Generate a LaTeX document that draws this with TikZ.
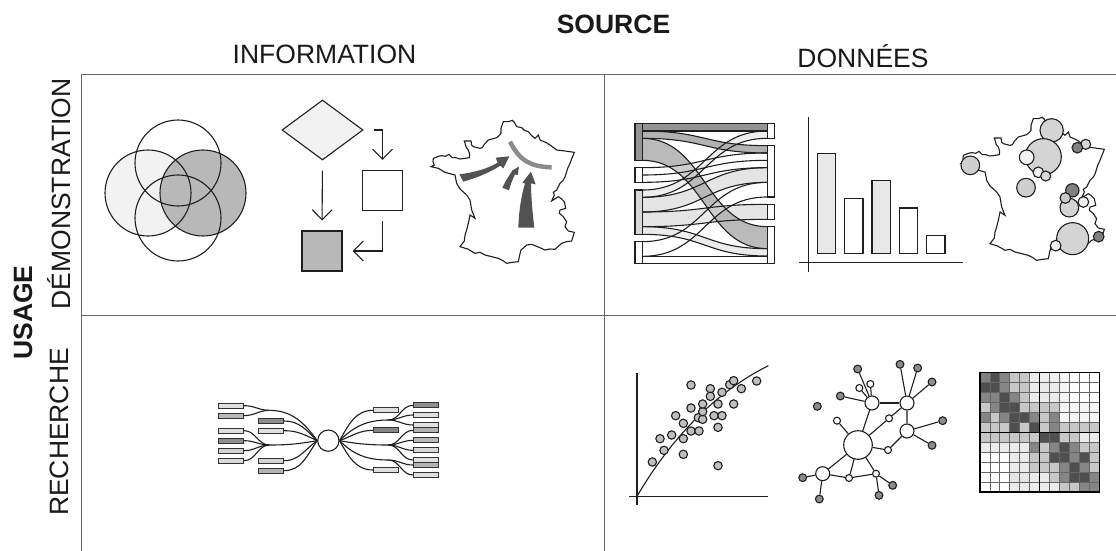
\documentclass[tikz,border=0pt]{standalone}
\usepackage{fontspec}
\setmainfont{Liberation Sans}
\usetikzlibrary{arrows.meta,shapes.geometric}

\newcommand{\francepath}{(18,155) -- (28,150) -- (24,140) -- (25,130) -- (40,124) -- (50,122) -- (62,124) -- (72,118) -- (82,128) -- (92,128) -- (105,132) -- (120,130) -- (133,128) -- (134,118) -- (130,105) -- (124,98) -- (118,78) -- (138,78) -- (140,90) -- (145,95) -- (165,100) -- (172,98) -- (178,88) -- (190,75) -- (215,68) -- (222,62) -- (228,55) -- (228,40) -- (235,20) -- (250,20) -- (262,16) -- (268,22) -- (275,35) -- (290,38) -- (298,46) -- (310,50) -- (318,60) -- (330,70) -- (340,60) -- (345,75) -- (362,82) -- (375,90) -- (395,105) -- (420,108) -- (448,112) -- (440,132) -- (435,145) -- (428,160) -- (425,170) -- (420,186) -- (415,195) -- (405,205) -- (395,225) -- (385,232) -- (388,240) -- (380,258) -- (400,245) -- (410,252) -- (418,260) -- (422,280) -- (405,285) -- (403,295) -- (415,305) -- (425,320) -- (420,335) -- (430,348) -- (448,352) -- (440,378) -- (425,380) -- (410,385) -- (390,403) -- (375,402) -- (360,405) -- (340,396) -- (320,388) -- (305,390) -- (288,405) -- (284,420) -- (280,440) -- (262,442) -- (245,445) -- (232,436) -- (220,430) -- (200,425) -- (180,420) -- (165,412) -- (150,415) -- (128,402) -- (105,395) -- (118,378) -- (120,360) -- (125,345) -- (130,325) -- (135,300) -- (150,310) -- (140,285) -- (135,255) -- (125,240) -- (105,222) -- (95,205) -- (90,180) -- (75,176) -- (60,172) -- (40,160) -- cycle}
\newcommand{\sankeyfill}[5]{\fill[#5] (97,#1) .. controls (285,#1) and (285,#3) .. (472,#3) -- (472,#4) .. controls (285,#4) and (285,#2) .. (97,#2) -- cycle;}

\tikzset{
  ink/.style={draw=black!88,line width=1.1pt},
  grid line/.style={draw=black!60,line width=0.8pt},
  label/.style={font=\fontsize{26.5}{30}\selectfont,text=black!90,inner sep=0pt},
  boldlabel/.style={label,font=\fontsize{26.5}{30}\selectfont\bfseries},
  flowarrow/.style={ink,-{Straight Barb[length=10pt,width=20pt]},shorten >=10pt,shorten <=10pt},
  tinybox/.style={rectangle,draw=black!80,line width=1.1pt,minimum width=25pt,minimum height=5pt,inner sep=0pt},
  hubdot/.style={circle,ink,fill=white,inner sep=0pt},
  leafdot/.style={circle,ink,fill=black!45,minimum size=7.8pt,inner sep=0pt},
  pointdot/.style={circle,ink,fill=black!25,minimum size=8.4pt,inner sep=0pt},
}

\begin{document}
\begin{tikzpicture}[x=1pt,y=-1pt]
\useasboundingbox (0,0) rectangle (1116,551);

\node(source) at (613.5,24) [boldlabel]{SOURCE};
\node(information) at (324.5,54) [label]{INFORMATION};
\node(donnees) at (863,56) [label]{DONNÉES};
\node(usage) at (23,312.5) [boldlabel,rotate=90]{USAGE};
\node(demo) at (59,194) [label,rotate=90]{DÉMONSTRATION};
\node(recherche) at (59,432) [label,rotate=90]{RECHERCHE};

\draw[grid line] (81,551) -- (81,74) -- (1116,74);
\draw[grid line] (81,315) -- (1116,315);
\draw[grid line] (604,74) -- (604,551);

% venn
\fill[black!5] (148,193) circle (43);
\fill[black!28] (203,193) circle (43);
\foreach \cx/\cy in {178/163,148/193,203/193,178/218}
  \draw[ink] (\cx,\cy) circle (43);

% flow chart
\node(choice) at (322.5,130) [diamond,aspect=1.35,ink,fill=black!5,minimum width=81pt,minimum height=60pt,inner sep=0pt]{};
\node(whitebox) at (382.5,190.5) [rectangle,ink,minimum size=40pt,inner sep=0pt]{};
\node(graybox) at (322,251) [rectangle,ink,fill=black!28,minimum size=40pt,inner sep=0pt]{};
\draw[flowarrow] (choice.south) -- (graybox.north);
\draw[flowarrow] (choice.east) -| (whitebox.north);
\draw[flowarrow] (whitebox.south) |- (graybox.east);

% map with arrows
\begin{scope}[shift={(425,115)},scale=1/3]
\draw[ink] \francepath;
\draw[black!45,line width=4.5pt] (255,80) .. controls (285,140) and (320,155) .. (380,157);
\fill[black!68] (103,178) .. controls (150,172) and (190,160) .. (218,143) -- (212,128) -- (253,124) -- (235,160) -- (226,152) .. controls (190,175) and (150,190) .. (115,200) -- cycle;
\fill[black!68] (232,218) .. controls (240,200) and (250,185) .. (260,170) -- (262,166) -- (282,155) -- (278,180) -- (270,178) .. controls (262,195) and (256,210) .. (252,226) -- cycle;
\fill[black!68] (280,338) .. controls (282,280) and (290,240) .. (300,205) -- (292,203) -- (318,170) -- (332,208) -- (318,205) .. controls (318,240) and (322,290) .. (328,338) -- cycle;
\end{scope}

% sankey
\begin{scope}[shift={(610,90)},scale=1/3]
\sankeyfill{300}{322}{123}{145}{black!7}
\sankeyfill{322}{366}{233}{277}{black!10}
\sankeyfill{366}{410}{343}{388}{black!10}
\sankeyfill{410}{433}{476}{498}{black!8}
\sankeyfill{101}{123}{101}{123}{black!42}
\sankeyfill{123}{145}{167}{189}{black!30}
\sankeyfill{145}{211}{410}{476}{black!30,fill opacity=.9}
\sankeyfill{233}{255}{189}{211}{white,fill opacity=.3}
\sankeyfill{255}{277}{211}{233}{white,fill opacity=.3}
\sankeyfill{455}{499}{277}{321}{white,fill opacity=.3}
\foreach \ya/\yb in {101/101,123/123,123/167,145/189,145/410,211/476,233/189,255/211,277/233,300/123,322/145,322/233,366/277,366/343,410/388,410/476,433/498,455/277,499/321,499/499,521/521}
  \draw[ink] (97,\ya) .. controls (285,\ya) and (285,\yb) .. (472,\yb);
\foreach \ya/\yb/\shade in {101/211/42,233/277/0,300/433/15,455/521/0}
  \draw[ink,fill=black!\shade] (75,\ya) rectangle (97,\yb);
\foreach \ya/\yb in {101/145,167/321,343/388,410/521}
  \draw[ink,fill=white] (472,\ya) rectangle (494,\yb);
\end{scope}

% bars
\begin{scope}[shift={(790,100)},scale=1/3]
\draw[ink] (55,52) -- (55,515);
\draw[ink] (28,488) -- (520,488);
\foreach \xa/\ytop/\shade in {82/160/9,164/296/0,246/242/9,328/324/0,410/406/0}
  \draw[ink,fill=black!\shade] (\xa,\ytop) rectangle (\xa+55,461);
\end{scope}

% map with bubbles
\begin{scope}[shift={(955,112)},scale=1/3]
\draw[ink] \francepath;
\end{scope}
\begin{scope}[shift={(790,100)},scale=1/3]
\foreach \cx/\cy/\r/\shade in {785/91/35/17,760/170/54/17,710/172/22/5,745/217/16/6,767/228/15/15,887/133/15/15,862/143/16/50,541/196/28/19,708/263/28/19,838/323/28/17,847/271/20/50,826/294/16/21,880/306/16/6,848/416/48/17,797/437/16/6,926/410/16/50}
  \draw[ink,fill=black!\shade] (\cx,\cy) circle (\r);
\end{scope}

% mind map
\begin{scope}[shift={(210,390)},scale=1/3]
\node(hub) at (355,152) [hubdot,minimum size=21.3pt]{};
\coordinate(jla) at (178,61);
\coordinate(jlb) at (178,165);
\coordinate(jra) at (535,90);
\coordinate(jrb) at (535,165);
\coordinate(jrc) at (535,210);
\foreach \y/\shade [count=\i] in {47/12,77/28,122/12,152/44,182/18,212/15}
  \node(la\i) at (63.5,\y) [tinybox,fill=black!\shade]{};
\foreach \y/\shade [count=\i] in {93/44,122/12,212/18,242/30}
  \node(lb\i) at (183.5,\y) [tinybox,fill=black!\shade]{};
\foreach \y/\shade [count=\i] in {61/12,121/48,240/12}
  \node(ra\i) at (527.5,\y) [tinybox,fill=black!\shade]{};
\foreach \y/\shade [count=\i] in {46/44,75/12,105/12,121/30,151/28,181/15,210/12,225/30,255/12}
  \node(rb\i) at (647.5,\y) [tinybox,fill=black!\shade]{};
\foreach \n in {la1,la2} \draw[ink] (\n.east) to[out=0,in=180] (jla);
\foreach \n in {la3,la4,la5,la6} \draw[ink] (\n.east) to[out=0,in=180] (jlb);
\foreach \n in {rb1,rb2,rb3} \draw[ink] (\n.west) to[out=180,in=0] (jra);
\foreach \n in {rb4,rb5,rb6,rb7} \draw[ink] (\n.west) to[out=180,in=0] (jrb);
\foreach \n in {rb8,rb9} \draw[ink] (\n.west) to[out=180,in=0] (jrc);
\draw[ink] (jla) to[out=0,in=125] (hub.west);
\draw[ink] (jlb) to[out=0,in=190] (hub.west);
\draw[ink] (lb1.east) to[out=0,in=135] (hub.west);
\draw[ink] (lb2.east) to[out=0,in=155] (hub.west);
\draw[ink] (lb3.east) to[out=0,in=215] (hub.west);
\draw[ink] (lb4.east) to[out=0,in=235] (hub.west);
\draw[ink] (ra1.west) to[out=180,in=60] (hub.east);
\draw[ink] (jra) to[out=180,in=45] (hub.east);
\draw[ink] (ra2.west) to[out=180,in=20] (hub.east);
\draw[ink] (jrb) to[out=180,in=-10] (hub.east);
\draw[ink] (jrc) to[out=180,in=-45] (hub.east);
\draw[ink] (ra3.west) to[out=180,in=-60] (hub.east);
\end{scope}

% scatter
\begin{scope}[shift={(620,350)},scale=1/3]
\draw[ink] (51,70) -- (51,465);
\draw[ink] (28,439) -- (445,439);
\draw[ink] (51,439) .. controls (150,270) and (280,130) .. (445,47);
\foreach \cx/\cy [count=\i] in {97/336,132/301,120/266,155/255,190/266,190/313,167/197,190/220,213/243,237/243,213/174,213/105,235/203,248/208,248/185,248/162,271/116,271/139,282/197,306/197,294/162,294/232,294/347,306/127,329/104,341/92,364/116,341/162,410/93}
  \node(pt\i) at (\cx,\cy) [pointdot]{};
\end{scope}

% network
\begin{scope}[shift={(790,350)},scale=1/3]
\node(big) at (204,285) [hubdot,minimum size=28.6pt]{};
\foreach \name/\cx/\cy in {na/246/159,nb/351/159,nc/351/243,nd/98/371}
  \node(\name) at (\cx,\cy) [hubdot,minimum size=14pt]{};
\foreach \name/\cx/\cy/\shade in {sa/297/205/0,sb/294/300/0,sc/141/212/0,sd/208/114/0,se/241/102/0,sf/177/384/6,sg/258/371/6}
  \node(\name) at (\cx,\cy) [hubdot,fill=black!\shade,minimum size=7pt]{};
\foreach \name/\cx/\cy in {la/203/57,lb/330/43,lc/383/54,ld/426/96,le/151/138,lf/82/169,lg/458/212,lh/426/286,li/38/383,lj/88/447,lk/308/406,ll/267/436}
  \node(\name) at (\cx,\cy) [leafdot]{};
\foreach \from/\to in {big/na,big/sa,sa/nb,big/sb,sb/nc,nb/nc,na/nb,big/sc,big/nd,big/sf,big/sg,nd/sf,sf/sg,nd/li,nd/lj,sg/lk,sg/ll,na/la,na/sd,na/se,na/le,nb/lb,nb/lc,nb/ld,nc/lg,nc/lh}
  \draw[ink] (\from) -- (\to);
\end{scope}

% matrix
\begin{scope}[shift={(970,360)},scale=1/3]
\foreach \row [count=\j] in {
  {50,31,52,78,78,92,94,94,96,100,100,100},
  {31,31,52,78,78,92,92,92,96,100,100,100},
  {52,52,31,52,78,92,92,92,96,100,100,100},
  {78,52,31,31,78,78,78,78,96,96,96,96},
  {52,78,52,31,31,52,78,52,96,96,96,96},
  {78,78,78,31,78,31,78,52,78,78,78,78},
  {78,78,78,78,78,78,31,31,78,78,92,92},
  {92,92,92,92,92,52,78,52,31,52,78,78},
  {100,100,100,92,92,78,78,31,31,52,31,78},
  {100,100,100,92,92,78,78,78,52,31,52,78},
  {100,100,100,90,90,92,92,78,52,31,31,52},
  {100,100,100,92,92,92,92,92,78,78,52,52}}
  \foreach \val [count=\i] in \row
    \filldraw[fill=white!\val!black,draw=black!60,line width=0.8pt] (30+29.83*\i-29.83,38+29.83*\j-29.83) rectangle +(29.83,29.83);
\draw[black,line width=1.2pt] (30,38) rectangle (388,396);
\draw[black,line width=1.2pt] (209,38) -- (209,396);
\draw[black,line width=1.2pt] (30,217) -- (388,217);
\end{scope}

\end{tikzpicture}
\end{document}
